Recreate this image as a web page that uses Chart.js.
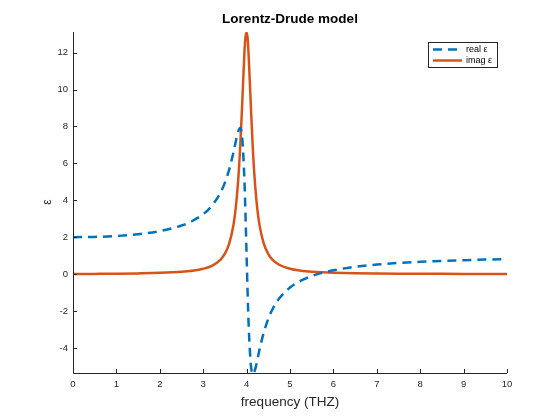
<!DOCTYPE html>
<html>
<head>
<meta charset="utf-8">
<script src="https://cdn.jsdelivr.net/npm/chart.js@4"></script>
<style>
  html, body { margin: 0; padding: 0; background: #fff; }
  #wrap { width: 560px; height: 420px; }
</style>
</head>
<body>
<div id="wrap"><canvas id="chart" width="560" height="420"></canvas></div>
<script>
// frequency samples (THz)
const freq = [0, 0.5, 1, 1.5, 2, 2.5, 2.75, 3, 3.2, 3.4, 3.5, 3.6, 3.7, 3.75, 3.8, 3.85, 3.9, 3.95, 3.975,
  4.0, 4.025, 4.05, 4.1, 4.15, 4.2, 4.25, 4.3, 4.4, 4.5, 4.6, 4.75, 5, 5.25, 5.5, 5.75, 6, 6.5, 7, 7.5,
  8, 8.5, 9, 9.5, 10];

// real part of epsilon (dashed blue)
const realEps = [2.0, 2.016, 2.066, 2.162, 2.33, 2.631, 2.878, 3.249, 3.703, 4.424, 4.958, 5.673, 6.627, 7.175, 7.686, 7.92, 7.34, 5.07, 3.18,
  1.0, -1.14, -2.93, -4.975, -5.425, -5.135, -4.612, -4.066, -3.126, -2.419, -1.894, -1.328, -0.73, -0.359, -0.108, 0.072, 0.206, 0.394, 0.517, 0.604,
  0.668, 0.716, 0.754, 0.785, 0.81];

// imaginary part of epsilon (solid orange)
const imagEps = [0, 0.0097, 0.021, 0.038, 0.0665, 0.1255, 0.184, 0.289, 0.45, 0.787, 1.108, 1.66, 2.704, 3.586, 4.886, 6.78, 9.3, 12.0, 12.85,
  13.1, 12.75, 11.7, 9.0, 6.5, 4.71, 3.47, 2.625, 1.621, 1.086, 0.774, 0.506, 0.288, 0.185, 0.128, 0.094, 0.0714, 0.045, 0.031, 0.022,
  0.0166, 0.0129, 0.0102, 0.0083, 0.0068];

const xTicks = [0, 1, 2, 3, 4, 5, 6, 7, 8, 9, 10];
const yTicks = [-4, -2, 0, 2, 4, 6, 8, 10, 12];
const seriesNames = ['real \u03b5', 'imag \u03b5'];

const axisColor = '#262626';
const blue = '#0072BD';
const orange = '#D95319';
const fontFamily = '"Liberation Sans", Arial, Helvetica, sans-serif';

function toPoints(ys) {
  return freq.map((f, i) => ({ x: f, y: ys[i] }));
}

// draws MATLAB-like axes, inward ticks, titles and the legend box
const decorPlugin = {
  id: 'decor',
  afterDraw(chart) {
    const ctx = chart.ctx;
    const area = chart.chartArea;
    const xs = chart.scales.x;
    const ys = chart.scales.y;

    ctx.save();
    ctx.strokeStyle = axisColor;
    ctx.lineWidth = 1;
    ctx.beginPath();
    ctx.moveTo(area.left + 0.5, area.top);
    ctx.lineTo(area.left + 0.5, area.bottom + 0.5);
    ctx.lineTo(area.right, area.bottom + 0.5);
    xTicks.forEach(v => {
      const px = Math.round(xs.getPixelForValue(v)) + 0.5;
      ctx.moveTo(px, area.bottom);
      ctx.lineTo(px, area.bottom - 4);
    });
    yTicks.forEach(v => {
      const py = Math.round(ys.getPixelForValue(v)) + 0.5;
      ctx.moveTo(area.left, py);
      ctx.lineTo(area.left + 4, py);
    });
    ctx.stroke();

    // title
    ctx.fillStyle = '#000';
    ctx.textAlign = 'center';
    ctx.textBaseline = 'middle';
    ctx.font = 'bold 13.5px ' + fontFamily;
    ctx.fillText('Lorentz-Drude model', (area.left + area.right) / 2, 19);

    // x label
    ctx.fillStyle = axisColor;
    ctx.font = '13.5px ' + fontFamily;
    ctx.fillText('frequency (THZ)', (area.left + area.right) / 2, 402);

    // y label
    ctx.save();
    ctx.translate(48, 202);
    ctx.rotate(-Math.PI / 2);
    ctx.font = '12px ' + fontFamily;
    ctx.fillText('\u03b5', 0, 0);
    ctx.restore();

    // legend
    ctx.fillStyle = '#fff';
    ctx.fillRect(428.5, 42.5, 69, 25);
    ctx.strokeStyle = axisColor;
    ctx.lineWidth = 1;
    ctx.strokeRect(428.5, 42.5, 69, 25);

    ctx.lineWidth = 2.5;
    ctx.strokeStyle = blue;
    ctx.setLineDash([9, 6]);
    ctx.beginPath();
    ctx.moveTo(433, 49.5);
    ctx.lineTo(458, 49.5);
    ctx.stroke();
    ctx.setLineDash([]);
    ctx.strokeStyle = orange;
    ctx.beginPath();
    ctx.moveTo(433, 60.5);
    ctx.lineTo(462, 60.5);
    ctx.stroke();

    ctx.fillStyle = '#000';
    ctx.textAlign = 'left';
    ctx.font = '9px ' + fontFamily;
    ctx.fillText(seriesNames[0], 466, 49.5);
    ctx.fillText(seriesNames[1], 466, 60.5);
    ctx.restore();
  }
};

new Chart(document.getElementById('chart').getContext('2d'), {
  type: 'line',
  data: {
    datasets: [
      {
        label: seriesNames[0],
        data: toPoints(realEps),
        borderColor: blue,
        borderWidth: 2.5,
        borderDash: [9, 6],
        pointRadius: 0,
        cubicInterpolationMode: 'monotone',
        fill: false
      },
      {
        label: seriesNames[1],
        data: toPoints(imagEps),
        borderColor: orange,
        borderWidth: 2.5,
        pointRadius: 0,
        cubicInterpolationMode: 'monotone',
        fill: false
      }
    ]
  },
  options: {
    responsive: false,
    animation: false,
    devicePixelRatio: 1,
    layout: { padding: { top: 32, right: 53, left: 0, bottom: 0 } },
    plugins: {
      legend: { display: false },
      title: { display: false },
      tooltip: { enabled: false }
    },
    scales: {
      x: {
        type: 'linear',
        min: 0,
        max: 10,
        grid: { display: false, drawTicks: false },
        border: { display: false },
        afterBuildTicks: (scale) => { scale.ticks = xTicks.map(v => ({ value: v })); },
        afterFit: (scale) => { scale.height = 47; },
        ticks: {
          color: axisColor,
          padding: 6,
          maxRotation: 0,
          font: { family: fontFamily, size: 9.5 }
        }
      },
      y: {
        type: 'linear',
        min: -5.36,
        max: 13.12,
        grid: { display: false, drawTicks: false },
        border: { display: false },
        afterBuildTicks: (scale) => { scale.ticks = yTicks.map(v => ({ value: v })); },
        afterFit: (scale) => { scale.width = 73; },
        ticks: {
          color: axisColor,
          padding: 5,
          font: { family: fontFamily, size: 9.5 }
        }
      }
    }
  },
  plugins: [decorPlugin]
});
</script>
</body>
</html>
